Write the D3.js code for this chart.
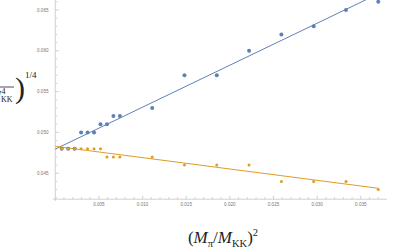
<!DOCTYPE html>
<html>
<head>
<meta charset="utf-8">
<script src="https://cdn.jsdelivr.net/npm/d3@7"></script>
<style>
  body { margin: 0; background: #fff; }
  svg { display: block; }
  .tick-label { font-family: "Liberation Sans", Arial, sans-serif; font-size: 4.6px; fill: #777; }
  .tex { font-family: "Liberation Serif", "DejaVu Serif", serif; fill: #222; }
</style>
</head>
<body>
<svg id="chart" width="393" height="247"></svg>
<script>
// data
var xVals = [0.00074, 0.00148, 0.00222, 0.00296, 0.0037, 0.00444, 0.00518, 0.00592, 0.00666, 0.0074,
             0.0111, 0.0148, 0.0185, 0.0222, 0.0259, 0.0296, 0.0333, 0.037]
var blueVals = [0.048, 0.048, 0.048, 0.050, 0.050, 0.050, 0.051, 0.051, 0.052, 0.052,
                0.053, 0.057, 0.057, 0.060, 0.062, 0.063, 0.065, 0.066]
var orangeVals = [0.048, 0.048, 0.048, 0.048, 0.048, 0.048, 0.048, 0.047, 0.047, 0.047,
                  0.047, 0.046, 0.046, 0.046, 0.044, 0.044, 0.044, 0.043]
var xMajor = [0.005, 0.010, 0.015, 0.020, 0.025, 0.030, 0.035]
var yMajor = [0.045, 0.050, 0.055, 0.060, 0.065]

var blue = "#5e81b5", orange = "#e19c24", axisColor = "#c4c4c4"

var svg = d3.select("#chart")

var x = d3.scaleLinear().domain([-0.00026, 0.038]).range([53, 387])
var y = d3.scaleLinear().domain([0.0416, 0.06622]).range([201, 0])
var xAxisY = y(0.04182)
var yAxisX = x(0)

// minor ticks every 0.001
var xMinor = d3.range(1, 38).map(i => i / 1000).filter(v => !xMajor.some(m => Math.abs(m - v) < 1e-9))
var yMinor = d3.range(42, 67).map(i => i / 1000).filter(v => !yMajor.some(m => Math.abs(m - v) < 1e-9))

var axes = svg.append("g").attr("stroke", axisColor).attr("stroke-width", 0.8)
axes.append("line").attr("x1", 53).attr("x2", 387).attr("y1", xAxisY).attr("y2", xAxisY)
axes.append("line").attr("x1", yAxisX).attr("x2", yAxisX).attr("y1", 0).attr("y2", 201)

axes.selectAll(".xmaj").data(xMajor).enter().append("line")
  .attr("x1", d => x(d)).attr("x2", d => x(d)).attr("y1", xAxisY).attr("y2", xAxisY - 3.5)
axes.selectAll(".xmin").data(xMinor).enter().append("line")
  .attr("x1", d => x(d)).attr("x2", d => x(d)).attr("y1", xAxisY).attr("y2", xAxisY - 2)
axes.selectAll(".ymaj").data(yMajor).enter().append("line")
  .attr("x1", yAxisX).attr("x2", yAxisX + 3.5).attr("y1", d => y(d)).attr("y2", d => y(d))
axes.selectAll(".ymin").data(yMinor).enter().append("line")
  .attr("x1", yAxisX).attr("x2", yAxisX + 2).attr("y1", d => y(d)).attr("y2", d => y(d))

svg.selectAll(".xlab").data(xMajor).enter().append("text")
  .attr("class", "tick-label").attr("text-anchor", "middle")
  .attr("x", d => x(d)).attr("y", xAxisY + 7)
  .text(d => d3.format(".3f")(d))
svg.selectAll(".ylab").data(yMajor).enter().append("text")
  .attr("class", "tick-label").attr("text-anchor", "end")
  .attr("x", 48.5).attr("y", d => y(d) + 1.6)
  .text(d => d3.format(".3f")(d))

// least squares fit lines
function fit(xs, ys) {
  var mx = d3.mean(xs), my = d3.mean(ys)
  var sxy = d3.sum(xs, (v, i) => (v - mx) * (ys[i] - my))
  var sxx = d3.sum(xs, v => (v - mx) * (v - mx))
  var b = sxy / sxx
  return { a: my - b * mx, b: b }
}

svg.append("clipPath").attr("id", "clip").append("rect")
  .attr("x", 0).attr("y", 0).attr("width", 393).attr("height", 247)

var plot = svg.append("g").attr("clip-path", "url(#clip)")

var series = [
  { vals: blueVals, color: blue, r: 2 },
  { vals: orangeVals, color: orange, r: 1.5 }
]

series.forEach(s => {
  var f = fit(xVals, s.vals)
  var x0 = 0, x1 = d3.max(xVals)
  plot.append("line")
    .attr("x1", x(x0)).attr("y1", y(f.a + f.b * x0))
    .attr("x2", x(x1)).attr("y2", y(f.a + f.b * x1))
    .attr("stroke", s.color).attr("stroke-width", 1)
})

series.forEach(s => {
  plot.selectAll(null).data(xVals).enter().append("circle")
    .attr("cx", d => x(d)).attr("cy", (d, i) => y(s.vals[i]))
    .attr("r", s.r).attr("fill", s.color)
})

// x axis label
var xl = svg.append("text").attr("class", "tex").attr("x", 223).attr("y", 243)
  .attr("text-anchor", "middle").attr("font-size", 17)
xl.append("tspan").text("(")
xl.append("tspan").attr("font-style", "italic").text("M")
xl.append("tspan").attr("font-size", 10.5).attr("dy", 3.5).text("π")
xl.append("tspan").attr("dy", -3.5).text("/")
xl.append("tspan").attr("font-style", "italic").text("M")
xl.append("tspan").attr("font-size", 10.5).attr("dy", 3.5).text("KK")
xl.append("tspan").attr("dy", -3.5).text(")")
xl.append("tspan").attr("font-size", 10.5).attr("dy", -7.5).text("2")

// y axis label (its left part falls off the picture, as in the reference)
var yl = svg.append("g").attr("class", "tex")
yl.append("line").attr("x1", -20).attr("x2", 14).attr("y1", 87).attr("y2", 87)
  .attr("stroke", "#222").attr("stroke-width", 0.8)
yl.append("text").attr("class", "tex").attr("x", 1).attr("y", 99).attr("font-size", 12)
  .attr("font-style", "italic").attr("text-anchor", "end").text("M")
yl.append("text").attr("class", "tex").attr("x", 1.5).attr("y", 93.5).attr("font-size", 8).text("4")
yl.append("text").attr("class", "tex").attr("x", 1).attr("y", 101.5).attr("font-size", 8).text("KK")
yl.append("text").attr("class", "tex").attr("x", 15).attr("y", 98).attr("font-size", 30).text(")")
yl.append("text").attr("class", "tex").attr("x", 25).attr("y", 78).attr("font-size", 9).text("1/4")
</script>
</body>
</html>
